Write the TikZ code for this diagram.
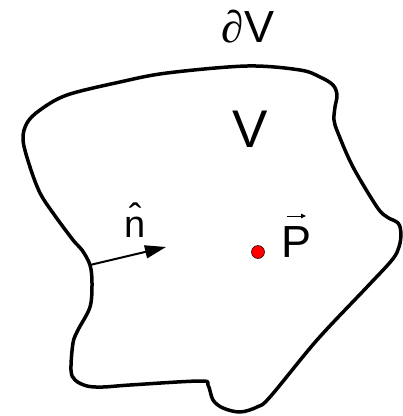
\documentclass[tikz,border=0pt]{standalone}
\usepackage{fontspec}
\setmainfont{Liberation Sans}
\newfontfamily\partialfont{Liberation Serif}
\usetikzlibrary{arrows.meta}
\tikzset{
  boundary/.style={line width=3.5pt, line join=round},
  normalarrow/.style={line width=2pt, -{Triangle[length=21pt,width=13pt]}},
  lbl/.style={inner sep=0pt, anchor=base},
  point/.style={circle, fill=red, draw=black, line width=0.5pt, minimum size=13pt, inner sep=0pt},
}
\begin{document}
\begin{tikzpicture}[x=1pt,y=-1pt]
\useasboundingbox (0,0) rectangle (403,416);
\draw[boundary] plot[smooth cycle, tension=0.55] coordinates {
(23,140) (27,123) (40,110) (67,95) (120,82) (167,73) (247,66) (300,70) (320,77) (333,85)
(337,95) (335,107) (334,120) (338,133) (353,167) (377,207) (387,217) (398,223) (401,233)
(399,247) (392,260) (367,287) (317,340) (270,397) (257,407) (240,412) (223,408) (213,400)
(208,385) (200,381) (130,385) (103,387) (87,386) (75,380) (71,370) (73,343) (78,330)
(90,307) (92,283) (90,265) (82,250) (73,240) (53,213) (40,193) (30,167)};
\node[lbl, font=\fontsize{45}{45}\selectfont] (dV) at (248,42) {{\partialfont ∂}V};
\node[lbl, font=\fontsize{53}{53}\selectfont] (V) at (250,147) {V};
\node[lbl, font=\fontsize{38}{38}\selectfont] (n) at (135,237) {\^n};
\node[lbl, font=\fontsize{45}{45}\selectfont] (P) at (297,257) {P};
\node[point] (dot) at (258,252) {};
\coordinate (nbase) at (90,265);
\coordinate (ntip) at (166,247);
\draw[normalarrow] (nbase) -- (ntip);
\coordinate (pa1) at (287,216);
\coordinate (pa2) at (306,216);
\draw[line width=1pt, -{Triangle[length=5pt,width=4.5pt]}] (pa1) -- (pa2);
\end{tikzpicture}
\end{document}
